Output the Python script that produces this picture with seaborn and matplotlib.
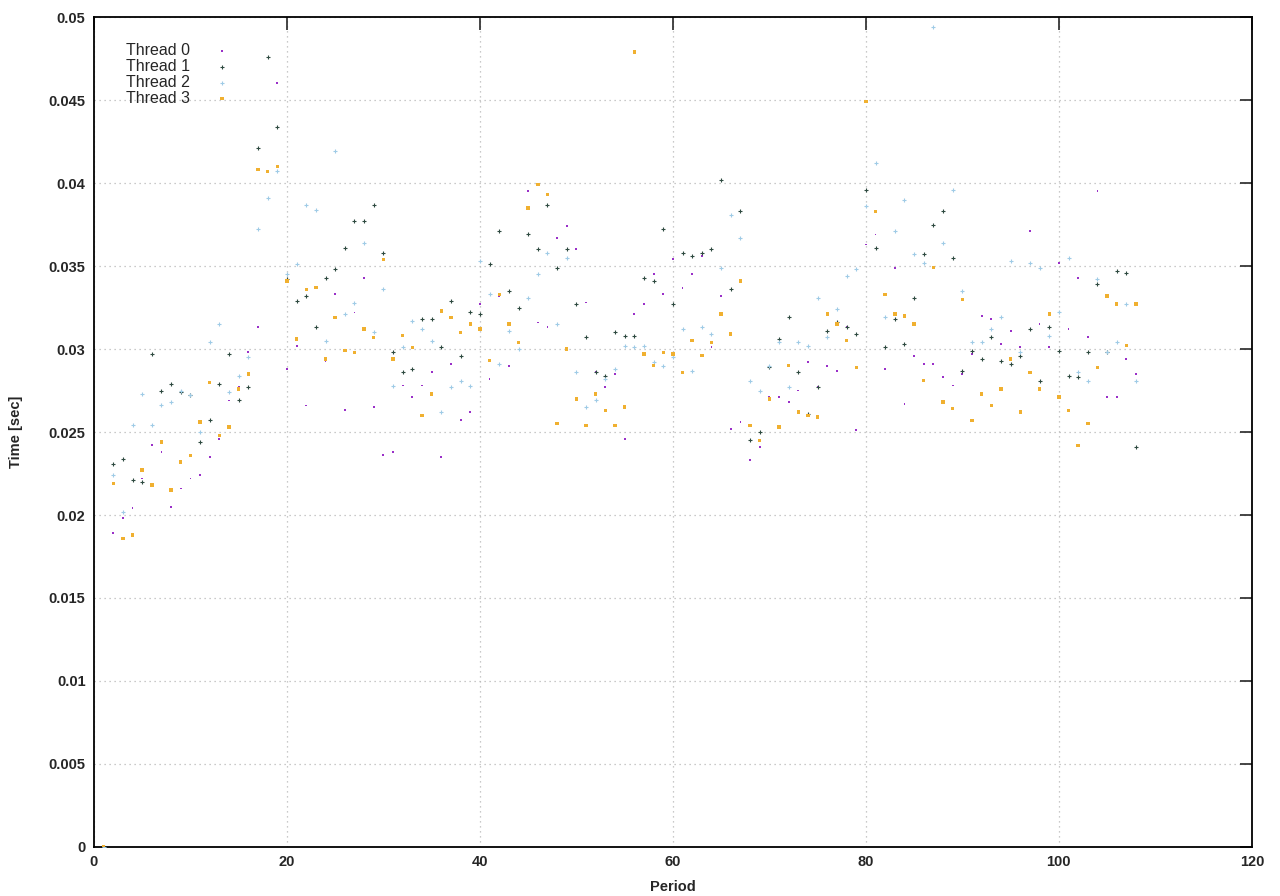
import numpy as np
import pandas as pd
import matplotlib
matplotlib.use('Agg')
import matplotlib.pyplot as plt
from matplotlib.ticker import MultipleLocator, FuncFormatter
import seaborn as sns

sns.set_style('white')
plt.rcParams['font.family'] = ['Liberation Sans', 'DejaVu Sans']

# -----------------------------------------------------------------------------
# Per-thread timings (sec), one value per period 1..108
# -----------------------------------------------------------------------------
period = list(range(1, 109))

thread0 = [0.0, 0.0189, 0.0198, 0.0204, 0.0222, 0.0242, 0.0238, 0.0205, 0.0216, 0.0222,
           0.0224, 0.0235, 0.0246, 0.0269, 0.0277, 0.0298, 0.0313, 0.0407, 0.0460, 0.0288,
           0.0302, 0.0266, 0.0337, 0.0293, 0.0333, 0.0263, 0.0322, 0.0343, 0.0265, 0.0236,
           0.0238, 0.0278, 0.0271, 0.0278, 0.0286, 0.0235, 0.0291, 0.0257, 0.0262, 0.0327,
           0.0282, 0.0332, 0.0290, 0.0304, 0.0395, 0.0316, 0.0313, 0.0367, 0.0374, 0.0360,
           0.0328, 0.0286, 0.0277, 0.0285, 0.0246, 0.0321, 0.0327, 0.0345, 0.0333, 0.0354,
           0.0337, 0.0345, 0.0356, 0.0301, 0.0332, 0.0252, 0.0256, 0.0233, 0.0241, 0.0271,
           0.0271, 0.0268, 0.0275, 0.0292, 0.0277, 0.0290, 0.0287, 0.0313, 0.0251, 0.0363,
           0.0369, 0.0288, 0.0349, 0.0267, 0.0296, 0.0291, 0.0291, 0.0283, 0.0278, 0.0285,
           0.0297, 0.0320, 0.0318, 0.0303, 0.0311, 0.0301, 0.0371, 0.0315, 0.0301, 0.0352,
           0.0312, 0.0343, 0.0307, 0.0395, 0.0271, 0.0271, 0.0294, 0.0285]

thread1 = [0.0, 0.0231, 0.0234, 0.0221, 0.0220, 0.0297, 0.0275, 0.0279, 0.0274, 0.0272,
           0.0244, 0.0257, 0.0279, 0.0297, 0.0269, 0.0277, 0.0421, 0.0476, 0.0434, 0.0342,
           0.0329, 0.0332, 0.0313, 0.0343, 0.0348, 0.0361, 0.0377, 0.0377, 0.0387, 0.0358,
           0.0298, 0.0286, 0.0288, 0.0318, 0.0318, 0.0301, 0.0329, 0.0296, 0.0322, 0.0321,
           0.0351, 0.0371, 0.0335, 0.0325, 0.0369, 0.0360, 0.0387, 0.0349, 0.0360, 0.0327,
           0.0307, 0.0286, 0.0284, 0.0310, 0.0308, 0.0308, 0.0343, 0.0341, 0.0372, 0.0327,
           0.0358, 0.0356, 0.0358, 0.0360, 0.0402, 0.0336, 0.0383, 0.0245, 0.0250, 0.0289,
           0.0306, 0.0319, 0.0286, 0.0261, 0.0277, 0.0311, 0.0316, 0.0313, 0.0309, 0.0396,
           0.0361, 0.0301, 0.0318, 0.0303, 0.0331, 0.0357, 0.0375, 0.0383, 0.0355, 0.0287,
           0.0299, 0.0294, 0.0307, 0.0293, 0.0291, 0.0296, 0.0312, 0.0281, 0.0313, 0.0299,
           0.0284, 0.0283, 0.0298, 0.0339, 0.0298, 0.0347, 0.0346, 0.0241]

thread2 = [0.0, 0.0224, 0.0202, 0.0254, 0.0273, 0.0254, 0.0266, 0.0268, 0.0275, 0.0272,
           0.0250, 0.0304, 0.0315, 0.0274, 0.0284, 0.0295, 0.0372, 0.0391, 0.0407, 0.0345,
           0.0351, 0.0387, 0.0384, 0.0305, 0.0419, 0.0321, 0.0328, 0.0364, 0.0310, 0.0336,
           0.0278, 0.0301, 0.0317, 0.0312, 0.0305, 0.0262, 0.0277, 0.0281, 0.0278, 0.0353,
           0.0333, 0.0291, 0.0311, 0.0300, 0.0331, 0.0345, 0.0358, 0.0315, 0.0355, 0.0286,
           0.0265, 0.0269, 0.0282, 0.0288, 0.0302, 0.0301, 0.0302, 0.0292, 0.0290, 0.0295,
           0.0312, 0.0287, 0.0313, 0.0309, 0.0349, 0.0381, 0.0367, 0.0281, 0.0275, 0.0290,
           0.0304, 0.0277, 0.0304, 0.0302, 0.0331, 0.0307, 0.0324, 0.0344, 0.0348, 0.0386,
           0.0412, 0.0319, 0.0371, 0.0390, 0.0357, 0.0352, 0.0494, 0.0364, 0.0396, 0.0335,
           0.0304, 0.0304, 0.0312, 0.0319, 0.0353, 0.0298, 0.0352, 0.0349, 0.0308, 0.0322,
           0.0355, 0.0286, 0.0281, 0.0342, 0.0298, 0.0304, 0.0327, 0.0281]

thread3 = [0.0, 0.0219, 0.0186, 0.0188, 0.0227, 0.0218, 0.0244, 0.0215, 0.0232, 0.0236,
           0.0256, 0.0280, 0.0248, 0.0253, 0.0276, 0.0285, 0.0408, 0.0407, 0.0410, 0.0341,
           0.0306, 0.0336, 0.0337, 0.0294, 0.0319, 0.0299, 0.0298, 0.0312, 0.0307, 0.0354,
           0.0294, 0.0308, 0.0301, 0.0260, 0.0273, 0.0323, 0.0319, 0.0310, 0.0315, 0.0312,
           0.0293, 0.0333, 0.0315, 0.0304, 0.0385, 0.0399, 0.0393, 0.0255, 0.0300, 0.0270,
           0.0254, 0.0273, 0.0263, 0.0254, 0.0265, 0.0479, 0.0297, 0.0290, 0.0298, 0.0297,
           0.0286, 0.0305, 0.0296, 0.0304, 0.0321, 0.0309, 0.0341, 0.0254, 0.0245, 0.0270,
           0.0253, 0.0290, 0.0262, 0.0260, 0.0259, 0.0321, 0.0315, 0.0305, 0.0289, 0.0449,
           0.0383, 0.0333, 0.0321, 0.0320, 0.0315, 0.0281, 0.0349, 0.0268, 0.0264, 0.0330,
           0.0257, 0.0273, 0.0266, 0.0276, 0.0294, 0.0262, 0.0286, 0.0276, 0.0321, 0.0271,
           0.0263, 0.0242, 0.0255, 0.0289, 0.0332, 0.0327, 0.0302, 0.0327]

labels = ['Thread 0', 'Thread 1', 'Thread 2', 'Thread 3']
colors = ['#9a30c8', '#2e4a40', '#9fcbe6', '#f0b030']
markers = ['s', '+', '+', 's']
sizes = [1.8, 7, 9, 6]
lws = [0, 0.8, 0.8, 0]

# -----------------------------------------------------------------------------
# Plot
# -----------------------------------------------------------------------------
fig = plt.figure(figsize=(12.8, 8.96), dpi=100)
ax = fig.add_axes([0.0734, 0.0547, 0.9046, 0.9263])

for vals, lab, c, m, s, lw in zip([thread0, thread1, thread2, thread3],
                                  labels, colors, markers, sizes, lws):
    df = pd.DataFrame({'Period': period, 'Time': vals})
    sns.scatterplot(data=df, x='Period', y='Time', ax=ax, color=c, marker=m,
                    s=s, linewidth=lw, edgecolor=c if m == '+' else 'none',
                    label=lab, zorder=3)

ax.set_xlim(0, 120)
ax.set_ylim(0, 0.05)
ax.xaxis.set_major_locator(MultipleLocator(20))
ax.yaxis.set_major_locator(MultipleLocator(0.005))
ax.yaxis.set_major_formatter(FuncFormatter(lambda v, p: '%g' % round(v, 4)))

ax.grid(True, color='#b8b8b8', linestyle=(0, (1, 3)), linewidth=0.9)
ax.tick_params(direction='in', length=9, width=1.2, top=True, right=True,
               labelsize=10.5, pad=6)
for t in ax.get_xticklabels() + ax.get_yticklabels():
    t.set_fontweight('bold')
for sp in ax.spines.values():
    sp.set_linewidth(1.3)
    sp.set_color('black')

ax.set_xlabel('Period', fontsize=10.5, fontweight='bold', labelpad=8)
ax.set_ylabel('Time [sec]', fontsize=10.5, fontweight='bold')
ax.yaxis.set_label_coords(-0.061, 0.5)

leg = ax.legend(loc='upper left', bbox_to_anchor=(0.018, 0.982), frameon=False,
                markerfirst=False, fontsize=11.5, handletextpad=1.6,
                labelspacing=0.05, borderaxespad=0.3, handlelength=0.8)

fig.savefig('out.png', dpi=100)
